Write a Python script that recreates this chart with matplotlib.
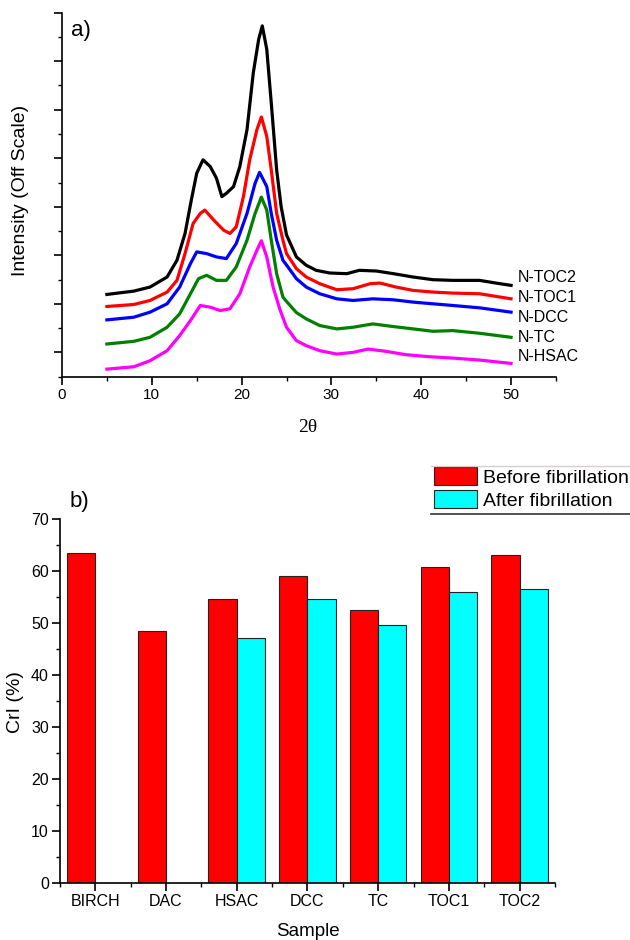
import numpy as np
import matplotlib
matplotlib.use('Agg')
import matplotlib.pyplot as plt
from matplotlib.ticker import MultipleLocator
from matplotlib.lines import Line2D

plt.rcParams['font.family'] = ['Liberation Sans', 'DejaVu Sans']

# a) XRD patterns of the nanofibrils, offset intensity (arbitrary units)
toc2_x = [5.0, 8.0, 9.8, 11.7, 12.8, 13.7, 14.4, 15.0, 15.7, 16.5, 17.2, 17.8, 18.3, 19.1, 19.8,
          20.6, 21.3, 21.9, 22.3, 22.8, 23.3, 23.9, 24.4, 25.0, 26.1, 27.2, 28.3, 29.8, 31.7,
          33.1, 35.0, 36.9, 39.1, 41.3, 43.5, 46.5, 48.3, 50.0]
toc2_y = [1194, 1263, 1346, 1553, 1898, 2450, 3140, 3692, 3968, 3830, 3589, 3209, 3278, 3416, 3830,
          4589, 5762, 6452, 6728, 6245, 5141, 3761, 3002, 2420, 1967, 1795, 1691, 1636, 1622,
          1691, 1677, 1622, 1553, 1498, 1484, 1484, 1429, 1381]

toc1_x = [5.0, 8.0, 9.8, 11.7, 12.8, 13.7, 14.6, 15.4, 15.9, 16.9, 18.0, 18.7, 19.4, 20.2, 20.9,
          21.7, 22.2, 22.8, 23.3, 23.9, 24.6, 25.0, 26.1, 27.2, 28.7, 30.6, 32.4, 34.3, 35.4,
          37.2, 39.1, 41.3, 43.5, 46.5, 50.0]
toc1_y = [946, 987, 1070, 1242, 1484, 2036, 2657, 2864, 2933, 2726, 2519, 2450, 2588, 3209, 3968,
          4589, 4850, 4451, 3761, 2864, 2312, 2036, 1726, 1553, 1415, 1291, 1312, 1415, 1429,
          1346, 1277, 1243, 1222, 1208, 1104]

dcc_x = [5.0, 8.0, 9.8, 11.7, 13.1, 14.3, 15.0, 16.1, 17.2, 18.3, 19.4, 20.6, 21.5, 22.0, 22.8,
         23.3, 23.9, 24.6, 25.0, 26.1, 27.2, 28.7, 30.6, 32.4, 34.6, 36.9, 39.1, 41.3, 43.5,
         46.5, 50.0]
dcc_y = [670, 725, 829, 1001, 1346, 1829, 2071, 2036, 1967, 1933, 2243, 2864, 3485, 3710, 3416,
         2864, 2312, 1898, 1800, 1519, 1346, 1208, 1104, 1070, 1104, 1084, 1036, 1001, 967,
         918, 829]

tc_x = [5.0, 8.0, 9.8, 11.7, 13.1, 14.3, 15.2, 16.1, 17.2, 18.3, 19.4, 20.6, 21.5, 22.2, 22.8,
        23.3, 23.9, 24.6, 25.0, 26.1, 27.2, 28.7, 30.6, 32.4, 34.6, 36.9, 39.1, 41.3, 43.5,
        46.5, 50.0]
tc_y = [173, 228, 311, 518, 794, 1208, 1519, 1588, 1484, 1484, 1760, 2312, 2864, 3200, 2933,
        2312, 1622, 1139, 1050, 820, 690, 553, 484, 518, 587, 532, 484, 435, 449,
        394, 311]

hsac_x = [5.0, 8.0, 9.8, 11.7, 13.1, 14.3, 15.4, 16.5, 17.6, 18.7, 19.8, 20.9, 21.7, 22.2, 22.8,
          23.5, 24.3, 25.0, 26.1, 27.2, 28.7, 30.6, 32.4, 34.1, 36.1, 38.3, 40.9, 43.5, 46.5, 50.0]
hsac_y = [-345, -296, -172, 35, 346, 656, 967, 932, 863, 898, 1208, 1760, 2105, 2300, 1967,
          1346, 863, 518, 242, 139, 35, -34, 0, 69, 21, -48, -89, -117, -158, -227]

series_names = ['N-TOC2', 'N-TOC1', 'N-DCC', 'N-TC', 'N-HSAC']
series_colors = ['black', 'red', 'blue', 'green', 'magenta']
label_y = [1546, 1128, 714, 300, -89]

# b) crystallinity index
samples = ['BIRCH', 'DAC', 'HSAC', 'DCC', 'TC', 'TOC1', 'TOC2']
cri_before = [63.6, 48.6, 54.7, 59.1, 52.6, 60.9, 63.1]
cri_after = [np.nan, np.nan, 47.2, 54.7, 49.7, 56.1, 56.5]

fig = plt.figure(figsize=(6.3, 9.4), dpi=100)

# ---- panel a
ax1 = fig.add_axes([0.0984, 0.5993, 0.7841, 0.3872])
curves = [(toc2_x, toc2_y), (toc1_x, toc1_y), (dcc_x, dcc_y), (tc_x, tc_y), (hsac_x, hsac_y)]
for (xs, ys), name, col, ly in zip(curves, series_names, series_colors, label_y):
    ax1.plot(xs, ys, color=col, lw=2.3, solid_joinstyle='round')
    ax1.text(50.7, ly, name, fontsize=11.5, va='center', ha='left')

ax1.set_xlim(0, 55)
ax1.set_ylim(-500, 7000)
ax1.xaxis.set_major_locator(MultipleLocator(10))
ax1.xaxis.set_minor_locator(MultipleLocator(5))
ax1.yaxis.set_major_locator(MultipleLocator(1000))
ax1.yaxis.set_minor_locator(MultipleLocator(500))
ax1.set_yticklabels([])
ax1.set_xlabel('2θ', fontsize=14, family=['Liberation Serif'], va='center')
ax1.xaxis.set_label_coords(0.498, -0.1396)
ax1.set_ylabel('Intensity (Off Scale)', fontsize=14, va='center')
ax1.yaxis.set_label_coords(-0.083, 0.513)
ax1.text(0.038, 0.952, 'a)', transform=ax1.transAxes, fontsize=16, va='center', ha='center')

# ---- panel b
ax2 = fig.add_axes([0.0952, 0.0603, 0.7857, 0.3873])
pos = np.arange(1, len(samples) + 1)
ax2.bar(pos - 0.2, cri_before, width=0.4, color='#ff0000', edgecolor='#222222', lw=0.8,
        label='Before fibrillation')
ax2.bar(pos + 0.2, cri_after, width=0.4, color='#00ffff', edgecolor='#222222', lw=0.8,
        label='After fibrillation')
ax2.set_xlim(0.5, 7.5)
ax2.set_ylim(0, 70)
ax2.set_xticks(pos)
ax2.set_xticklabels(samples)
ax2.xaxis.set_minor_locator(MultipleLocator(0.5))
ax2.yaxis.set_major_locator(MultipleLocator(10))
ax2.yaxis.set_minor_locator(MultipleLocator(5))
ax2.set_xlabel('Sample', fontsize=13.5, va='center')
ax2.xaxis.set_label_coords(0.5, -0.131)
ax2.set_ylabel('CrI (%)', fontsize=14, va='center')
ax2.yaxis.set_label_coords(-0.09, 0.498)
ax2.text(0.04, 1.05, 'b)', transform=ax2.transAxes, fontsize=16, va='center', ha='center')

ax2.legend(loc='upper left', bbox_to_anchor=(0.6894, 0.5029), bbox_transform=fig.transFigure,
           frameon=False, fontsize=14, borderpad=0, borderaxespad=0, handlelength=2.2,
           handleheight=1.05, labelspacing=0.16, handletextpad=0.3)
fig.add_artist(Line2D([0.6837, 1.0], [0.5046, 0.5046], transform=fig.transFigure,
                      color='#d9cccc', lw=1.0))
fig.add_artist(Line2D([0.6837, 1.0], [0.4529, 0.4529], transform=fig.transFigure,
                      color='#333333', lw=1.2))

for ax, lsize in ((ax1, 11), (ax2, 11.5)):
    for side in ('top', 'right'):
        ax.spines[side].set_visible(False)
    for side in ('left', 'bottom'):
        ax.spines[side].set_linewidth(1.2)
    ax.tick_params(which='major', direction='out', length=5.5, width=1.2, labelsize=lsize, pad=2.5)
    ax.tick_params(which='minor', direction='out', length=3, width=1.0)

fig.savefig('out.png', dpi=100)
